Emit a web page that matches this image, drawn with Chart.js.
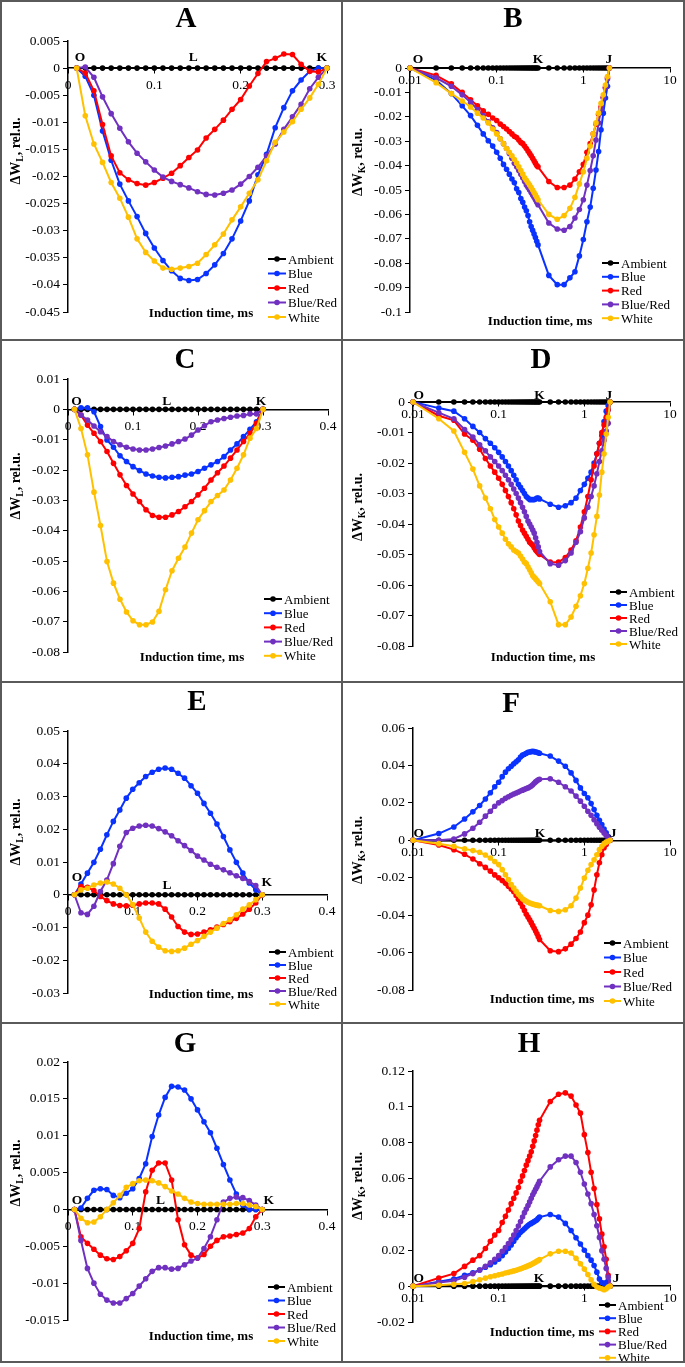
<!DOCTYPE html>
<html>
<head>
<meta charset="utf-8">
<script src="https://cdn.jsdelivr.net/npm/chart.js@4.4.1/dist/chart.umd.min.js"></script>
<style>
  body { margin: 0; background: #fff; }
  #fig { position: relative; width: 685px; height: 1367px; background: #fff; overflow: hidden; }
  .rule { position: absolute; background: #5a5a5a; }
</style>
</head>
<body>
<div id="fig"></div>
<script>
// ---- data ----
const SERIES = ['Ambient', 'Blue', 'Red', 'Blue/Red', 'White'];
const X_TITLE = 'Induction time, ms';
const LOG_TICKS = [0.01, 0.1, 1, 10];

// time points, ms
const L_TIME = [0.01,0.02,0.03,0.04,0.05,0.06,0.07,0.08,0.09,0.10,0.11,0.12,0.13,0.14,0.15,0.16,0.17,0.18,0.19,0.20,0.21,0.22,0.23,0.24,0.25,0.26,0.27,0.28,0.29,0.30];
const K_TIME = [0.01,0.02,0.03,0.04,0.05,0.06,0.07,0.08,0.09,0.10,0.11,0.12,0.13,0.14,0.15,0.16,0.17,0.18,0.19,0.20,0.21,0.22,0.23,0.24,0.25,0.26,0.27,0.28,0.29,0.30,
                0.4,0.5,0.6,0.7,0.8,0.9,1.0,1.1,1.2,1.3,1.4,1.5,1.6,1.7,1.8,1.9,2.0];
const L_AMBIENT = [0,0,0,0,0,0,0,0,0,0,0,0,0,0,0,0,0,0,0,0,0,0,0,0,0,0,0,0,0,0];
const K_AMBIENT = [0,0,0,0,0,0,0,0,0,0,0,0,0,0,0,0,0,0,0,0,0,0,0,0,0,0,0,0,0,0,0,0,0,0,0,0,0,0,0,0,0,0,0,0,0,0,0];

// A - dW_L
const aBlue = [0,-0.0015,-0.005,-0.0116,-0.017,-0.0214,-0.0245,-0.0274,-0.0305,-0.0332,-0.0355,-0.0374,-0.0388,-0.0392,-0.039,-0.0379,-0.0363,-0.0342,-0.0315,-0.0282,-0.0245,-0.0197,-0.0159,-0.011,-0.0073,-0.0042,-0.0022,-0.0006,0,0];
const aRed = [0,-0.0009,-0.0042,-0.0104,-0.0162,-0.0193,-0.0206,-0.0213,-0.0216,-0.0211,-0.0203,-0.0194,-0.018,-0.0165,-0.0151,-0.0129,-0.0113,-0.0096,-0.0076,-0.0058,-0.0033,-0.001,0.0012,0.0018,0.0026,0.0025,0.0007,-0.0006,-0.0007,0];
const aBlueRed = [0,0.0002,-0.0017,-0.0053,-0.0084,-0.0111,-0.0136,-0.0157,-0.0173,-0.0188,-0.0201,-0.0209,-0.0215,-0.0221,-0.0228,-0.0233,-0.0234,-0.0231,-0.0225,-0.0214,-0.02,-0.0183,-0.0162,-0.014,-0.0113,-0.009,-0.0067,-0.0038,-0.0017,0];
const aWhite = [0,-0.0088,-0.014,-0.0174,-0.0211,-0.024,-0.0275,-0.0315,-0.034,-0.0356,-0.0369,-0.0371,-0.0369,-0.0366,-0.036,-0.0344,-0.0326,-0.0306,-0.028,-0.0256,-0.0231,-0.0206,-0.0171,-0.0137,-0.0118,-0.0099,-0.0076,-0.0055,-0.003,0];

// B - dW_K
const bBlue = [0,-0.005,-0.0105,-0.0155,-0.0195,-0.0235,-0.027,-0.0298,-0.032,-0.0345,-0.037,-0.0395,-0.0415,-0.0435,-0.0455,-0.047,-0.0495,-0.051,-0.0535,-0.055,-0.057,-0.0585,-0.0605,-0.063,-0.065,-0.0665,-0.068,-0.0695,-0.071,-0.0725,
               -0.085,-0.0888,-0.0888,-0.086,-0.0835,-0.077,-0.0703,-0.063,-0.057,-0.0493,-0.0418,-0.0342,-0.0253,-0.0185,-0.0123,-0.0075,0];
const bRed = [0,-0.003,-0.0065,-0.01,-0.013,-0.0155,-0.0175,-0.019,-0.0205,-0.0215,-0.023,-0.024,-0.025,-0.026,-0.027,-0.028,-0.0285,-0.0295,-0.0305,-0.031,-0.032,-0.033,-0.034,-0.035,-0.036,-0.037,-0.038,-0.039,-0.04,-0.0405,
              -0.0465,-0.049,-0.049,-0.048,-0.0455,-0.0425,-0.0395,-0.0345,-0.031,-0.027,-0.023,-0.019,-0.016,-0.012,-0.008,-0.004,0];
const bBlueRed = [0,-0.004,-0.0075,-0.011,-0.014,-0.017,-0.0195,-0.022,-0.0245,-0.0265,-0.029,-0.031,-0.033,-0.035,-0.037,-0.039,-0.0405,-0.042,-0.0435,-0.045,-0.0465,-0.048,-0.049,-0.05,-0.051,-0.052,-0.053,-0.054,-0.055,-0.056,
                  -0.0635,-0.066,-0.0665,-0.065,-0.0615,-0.058,-0.054,-0.048,-0.042,-0.036,-0.0295,-0.0225,-0.017,-0.0123,-0.0082,-0.0045,0];
const bWhite = [0,-0.006,-0.0105,-0.0135,-0.016,-0.0185,-0.0205,-0.0225,-0.025,-0.027,-0.029,-0.031,-0.033,-0.0345,-0.036,-0.0375,-0.039,-0.0405,-0.042,-0.0435,-0.045,-0.046,-0.047,-0.048,-0.049,-0.05,-0.051,-0.052,-0.053,-0.054,
                -0.06,-0.062,-0.0605,-0.0575,-0.053,-0.0475,-0.0425,-0.037,-0.032,-0.027,-0.0225,-0.0185,-0.0145,-0.011,-0.007,-0.0035,0];

// C - dW_L
const cBlue = [0,0.0005,0.0005,-0.0008,-0.0057,-0.0101,-0.0125,-0.0153,-0.0172,-0.0189,-0.0202,-0.0213,-0.022,-0.0224,-0.0226,-0.0224,-0.0222,-0.0217,-0.0213,-0.0205,-0.0194,-0.0183,-0.0172,-0.0156,-0.0134,-0.0114,-0.009,-0.0066,-0.0041,0];
const cRed = [0,-0.0019,-0.0052,-0.0079,-0.0106,-0.0139,-0.0178,-0.0216,-0.0251,-0.0279,-0.0304,-0.0331,-0.035,-0.0356,-0.0356,-0.0348,-0.0337,-0.0321,-0.0304,-0.0282,-0.026,-0.0233,-0.0209,-0.0187,-0.0161,-0.0134,-0.0106,-0.0079,-0.0046,0];
const cBlueRed = [0,-0.0019,-0.0035,-0.0055,-0.0074,-0.009,-0.0106,-0.0117,-0.0125,-0.0131,-0.0134,-0.0134,-0.0131,-0.0126,-0.0121,-0.0114,-0.0106,-0.0098,-0.0085,-0.0068,-0.0054,-0.0041,-0.0035,-0.003,-0.0026,-0.0022,-0.002,-0.0015,-0.0015,0];
const cWhite = [0,-0.0063,-0.015,-0.0273,-0.0383,-0.0502,-0.0573,-0.0626,-0.0668,-0.0697,-0.071,-0.071,-0.0701,-0.0666,-0.0595,-0.0532,-0.0491,-0.0454,-0.0408,-0.0364,-0.0334,-0.0304,-0.0284,-0.0266,-0.0233,-0.0194,-0.015,-0.0095,-0.0063,0];

// D - dW_K
const dBlue = [0,-0.002,-0.003,-0.0055,-0.008,-0.01,-0.012,-0.0135,-0.015,-0.0165,-0.018,-0.0195,-0.021,-0.0225,-0.024,-0.0255,-0.027,-0.028,-0.029,-0.03,-0.031,-0.0315,-0.032,-0.032,-0.032,-0.032,-0.0318,-0.0315,-0.0315,-0.0318,
               -0.0335,-0.0345,-0.034,-0.033,-0.0315,-0.029,-0.027,-0.025,-0.023,-0.02,-0.017,-0.0135,-0.011,-0.0064,-0.003,-0.0012,0];
const dRed = [0,-0.0045,-0.006,-0.0105,-0.0125,-0.0155,-0.0185,-0.021,-0.023,-0.025,-0.027,-0.029,-0.031,-0.033,-0.035,-0.037,-0.039,-0.0405,-0.042,-0.043,-0.044,-0.045,-0.046,-0.0465,-0.047,-0.0478,-0.0485,-0.049,-0.0495,-0.05,
              -0.0525,-0.0525,-0.051,-0.0485,-0.0455,-0.041,-0.036,-0.031,-0.0255,-0.021,-0.017,-0.0135,-0.01,-0.0075,-0.005,-0.0025,0];
const dBlueRed = [0,-0.0035,-0.0055,-0.009,-0.0115,-0.014,-0.016,-0.018,-0.0195,-0.021,-0.0225,-0.024,-0.0255,-0.027,-0.0285,-0.03,-0.0315,-0.033,-0.0345,-0.036,-0.0375,-0.039,-0.04,-0.041,-0.042,-0.043,-0.0445,-0.046,-0.0475,-0.049,
                  -0.053,-0.0535,-0.052,-0.0495,-0.046,-0.0425,-0.038,-0.0345,-0.031,-0.0275,-0.0235,-0.0195,-0.016,-0.0125,-0.0095,-0.007,0];
const dWhite = [0,-0.0055,-0.0095,-0.0165,-0.022,-0.0275,-0.0315,-0.035,-0.0385,-0.041,-0.043,-0.045,-0.0465,-0.0475,-0.0485,-0.049,-0.0495,-0.0505,-0.0515,-0.0525,-0.053,-0.054,-0.055,-0.056,-0.057,-0.0575,-0.058,-0.0585,-0.059,-0.0595,
                -0.0655,-0.073,-0.073,-0.0705,-0.067,-0.0635,-0.0595,-0.0545,-0.0495,-0.0435,-0.0375,-0.0305,-0.023,-0.017,-0.0105,-0.005,0];

// E - dW_L
const eBlue = [0,0.0033,0.0066,0.0099,0.0139,0.0183,0.0224,0.0259,0.0295,0.0322,0.0342,0.0361,0.0374,0.0383,0.0387,0.0383,0.0371,0.0356,0.0333,0.031,0.0279,0.0249,0.0216,0.0178,0.0137,0.0099,0.0066,0.0036,0.0015,0];
const eRed = [0,0.0025,0.0023,0.0013,-0.0005,-0.0018,-0.0028,-0.0033,-0.0034,-0.0032,-0.0028,-0.0025,-0.0025,-0.0028,-0.0044,-0.0068,-0.0097,-0.0114,-0.0121,-0.012,-0.0114,-0.0107,-0.0099,-0.0091,-0.0082,-0.0072,-0.0059,-0.0044,-0.0025,0];
const eBlueRed = [0,-0.0055,-0.006,-0.0035,0.001,0.0045,0.0095,0.0148,0.019,0.0203,0.021,0.0212,0.021,0.0202,0.0192,0.018,0.0165,0.015,0.0135,0.0118,0.0106,0.0093,0.0084,0.0076,0.0067,0.0058,0.005,0.004,0.0028,0];
const eWhite = [0,0.0015,0.002,0.003,0.0036,0.0039,0.0033,0.002,0,-0.003,-0.0071,-0.0114,-0.0142,-0.016,-0.0171,-0.0173,-0.0171,-0.0163,-0.0151,-0.014,-0.0127,-0.0114,-0.0102,-0.0088,-0.0076,-0.0061,-0.0044,-0.0031,-0.0015,0];

// F - dW_K
const fBlue = [0,0.0036,0.0071,0.0114,0.0152,0.0186,0.0221,0.0254,0.0286,0.031,0.034,0.0364,0.0382,0.0396,0.0409,0.042,0.043,0.0445,0.0455,0.046,0.0465,0.047,0.0472,0.0474,0.0475,0.0474,0.0472,0.047,0.0468,0.0465,
               0.045,0.0423,0.0396,0.036,0.032,0.028,0.025,0.0227,0.0196,0.0164,0.0134,0.0107,0.0084,0.006,0.004,0.002,0];
const fRed = [0,-0.0025,-0.005,-0.0075,-0.01,-0.0125,-0.0145,-0.0165,-0.0185,-0.02,-0.0215,-0.023,-0.0245,-0.026,-0.0275,-0.0295,-0.0315,-0.0335,-0.0355,-0.0375,-0.0395,-0.041,-0.0425,-0.044,-0.0455,-0.047,-0.0485,-0.05,-0.0515,-0.053,
              -0.059,-0.0595,-0.058,-0.0555,-0.0525,-0.049,-0.044,-0.04,-0.0345,-0.0265,-0.0184,-0.012,-0.0077,-0.004,-0.0023,-0.0005,0];
const fBlueRed = [0,0,0.0007,0.0034,0.0064,0.0096,0.0129,0.0155,0.0182,0.02,0.0212,0.0224,0.0233,0.024,0.0247,0.0253,0.0258,0.0263,0.0268,0.0272,0.0277,0.028,0.0285,0.029,0.0297,0.0305,0.0312,0.0318,0.0323,0.0326,
                  0.0329,0.031,0.0286,0.0263,0.0236,0.0209,0.0182,0.0155,0.0134,0.011,0.0089,0.007,0.0054,0.0039,0.0025,0.0012,0];
const fWhite = [0,-0.0018,-0.0032,-0.0046,-0.0055,-0.0064,-0.0079,-0.0095,-0.0113,-0.013,-0.0157,-0.0184,-0.021,-0.0237,-0.0255,-0.0273,-0.0288,-0.03,-0.0313,-0.032,-0.0326,-0.0331,-0.0335,-0.0338,-0.0341,-0.0343,-0.0345,-0.0347,-0.0348,-0.035,
                -0.0375,-0.038,-0.0371,-0.035,-0.0309,-0.0255,-0.0202,-0.016,-0.013,-0.0104,-0.0077,-0.005,-0.0032,-0.0018,-0.001,-0.0005,0];

// G - dW_L
const gBlue = [0,0.0002,0.0015,0.0026,0.0028,0.0027,0.0019,0.0016,0.0022,0.0028,0.0042,0.0062,0.0099,0.0128,0.0152,0.0167,0.0166,0.0162,0.015,0.0135,0.0119,0.0104,0.0083,0.0061,0.004,0.0021,0.0006,0,0,0];
const gRed = [0,-0.0037,-0.0046,-0.0054,-0.0062,-0.0067,-0.0068,-0.0064,-0.0056,-0.0046,-0.0026,0.0024,0.0053,0.0063,0.0063,0.004,-0.0014,-0.0048,-0.0062,-0.0066,-0.0061,-0.005,-0.0042,-0.0037,-0.0036,-0.0034,-0.0032,-0.0026,-0.001,0];
const gBlueRed = [0,-0.0042,-0.008,-0.01,-0.0115,-0.0123,-0.0127,-0.0127,-0.0121,-0.0114,-0.0104,-0.0094,-0.0084,-0.0079,-0.0079,-0.0081,-0.008,-0.0075,-0.007,-0.0066,-0.0053,-0.0037,-0.0014,0.001,0.0015,0.0017,0.0016,0.0012,0.0006,0];
const gWhite = [0,-0.0012,-0.0018,-0.0017,-0.001,0,0.0009,0.0019,0.003,0.0035,0.0039,0.004,0.0039,0.0036,0.0031,0.0025,0.0021,0.0015,0.001,0.0008,0.0007,0.0007,0.0007,0.0007,0.0007,0.0008,0.0008,0.0006,0.0004,0];

// H - dW_K
const hBlue = [0,0.0025,0.004,0.006,0.0075,0.009,0.0105,0.012,0.0135,0.015,0.017,0.019,0.021,0.023,0.025,0.027,0.0285,0.03,0.031,0.032,0.033,0.0338,0.0345,0.035,0.0355,0.036,0.0365,0.037,0.0378,0.0385,
               0.04,0.0385,0.035,0.031,0.027,0.0235,0.02,0.017,0.0145,0.0115,0.0078,0.004,0.002,0.0015,0.002,0.003,0];
const hRed = [0,0.0045,0.007,0.011,0.0145,0.017,0.021,0.025,0.0285,0.031,0.0355,0.039,0.0425,0.046,0.049,0.052,0.055,0.0585,0.0615,0.0645,0.0675,0.07,0.0725,0.075,0.078,0.081,0.084,0.087,0.09,0.0925,
              0.103,0.107,0.1078,0.106,0.101,0.0965,0.0845,0.0745,0.0635,0.0545,0.0455,0.0375,0.029,0.022,0.015,0.006,0];
const hBlueRed = [0,0.002,0.003,0.005,0.007,0.009,0.011,0.013,0.015,0.017,0.0195,0.0215,0.0238,0.026,0.0285,0.031,0.0335,0.036,0.0385,0.041,0.043,0.045,0.047,0.049,0.051,0.0525,0.054,0.0555,0.057,0.0585,
                  0.0665,0.0705,0.0725,0.0725,0.069,0.0635,0.057,0.0514,0.046,0.04,0.0337,0.0272,0.0198,0.015,0.0099,0.005,0];
const hWhite = [0,0.0005,0.001,0.0015,0.0025,0.0035,0.0045,0.0052,0.0058,0.0063,0.0068,0.0073,0.0077,0.0081,0.0085,0.0089,0.0093,0.0097,0.0101,0.0105,0.0109,0.0113,0.0117,0.0121,0.0126,0.013,0.0135,0.014,0.0143,0.0148,
                0.018,0.0195,0.0195,0.0185,0.0155,0.0125,0.0095,0.0065,0.0035,0.001,-0.0005,-0.001,-0.0015,-0.002,-0.0015,-0.0005,0];

// ---- layout (page pixel coordinates) ----
const SERIF = '"Liberation Serif", "Times New Roman", serif';
const COLORS = ['#000000', '#0a32ff', '#ff0000', '#7030c0', '#ffc000'];
const YW = 55;

const PANELS = [
  { letter: 'A', sub: 'L', log: false, ox: 2, oy: 2, w: 339, h: 337, area: [68, 41, 327, 312], y: [-0.045, 0.005, 0.005], xMax: 0.3,
    data: [aBlue, aRed, aBlueRed, aWhite], letterAt: [186, 27], xTitleAt: [201, 317], yTitleAt: [20, 151],
    marks: [['O', 0.014, 12], ['L', 0.145, 12], ['K', 0.294, 12]], legend: [268, 286, 288, 259, 14.5] },
  { letter: 'B', sub: 'K', log: true, ox: 343, oy: 2, w: 340, h: 337, area: [410, 68, 670, 312], y: [-0.1, 0, 0.01],
    data: [bBlue, bRed, bBlueRed, bWhite], letterAt: [513, 27], xTitleAt: [540, 325], yTitleAt: [362, 162],
    marks: [['O', 0.0124, 10], ['K', 0.3, 10], ['J', 1.97, 10]], legend: [602, 619, 621, 263, 13.8] },
  { letter: 'C', sub: 'L', log: false, ox: 2, oy: 341, w: 339, h: 340, area: [68, 379, 328, 652], y: [-0.08, 0.01, 0.01], xMax: 0.4,
    data: [cBlue, cRed, cBlueRed, cWhite], letterAt: [185, 368], xTitleAt: [192, 661], yTitleAt: [20, 486],
    marks: [['O', 0.013, 9], ['L', 0.152, 9], ['K', 0.297, 9]], legend: [264, 282, 284, 599, 14.2] },
  { letter: 'D', sub: 'K', log: true, ox: 343, oy: 341, w: 340, h: 340, area: [413, 402, 670, 646], y: [-0.08, 0, 0.01],
    data: [dBlue, dRed, dBlueRed, dWhite], letterAt: [541, 368], xTitleAt: [543, 661], yTitleAt: [362, 507],
    marks: [['O', 0.0117, 8], ['K', 0.3, 8], ['J', 1.94, 8]], legend: [610, 627, 629, 592, 13] },
  { letter: 'E', sub: 'L', log: false, ox: 2, oy: 683, w: 339, h: 339, area: [68, 731, 327, 993], y: [-0.03, 0.05, 0.01], xMax: 0.4,
    data: [eBlue, eRed, eBlueRed, eWhite], letterAt: [197, 710], xTitleAt: [201, 998], yTitleAt: [20, 832],
    marks: [['O', 0.014, 18], ['L', 0.153, 10], ['K', 0.307, 13]], legend: [269, 286, 288, 952, 13] },
  { letter: 'F', sub: 'K', log: true, ox: 343, oy: 683, w: 340, h: 339, area: [413, 728, 670, 990], y: [-0.08, 0.06, 0.02],
    data: [fBlue, fRed, fBlueRed, fWhite], letterAt: [511, 712], xTitleAt: [542, 1003], yTitleAt: [362, 850],
    marks: [['O', 0.0117, 8], ['K', 0.303, 8], ['J', 2.17, 8]], legend: [604, 621, 623, 943, 14.5] },
  { letter: 'G', sub: 'L', log: false, ox: 2, oy: 1024, w: 339, h: 337, area: [68, 1062, 327, 1320], y: [-0.015, 0.02, 0.005], xMax: 0.4,
    data: [gBlue, gRed, gBlueRed, gWhite], letterAt: [185, 1052], xTitleAt: [201, 1340], yTitleAt: [20, 1173],
    marks: [['O', 0.014, 10], ['L', 0.143, 10], ['K', 0.31, 10]], legend: [268, 285, 287, 1287, 13.5] },
  { letter: 'H', sub: 'K', log: true, ox: 343, oy: 1024, w: 340, h: 337, area: [413, 1071, 670, 1322], y: [-0.02, 0.12, 0.02],
    data: [hBlue, hRed, hBlueRed, hWhite], letterAt: [529, 1052], xTitleAt: [542, 1336], yTitleAt: [362, 1186],
    marks: [['O', 0.0117, 9], ['K', 0.296, 9], ['J', 2.35, 9]], legend: [599, 616, 618, 1305, 13.2] }
];

Chart.defaults.font.family = SERIF;
Chart.defaults.color = '#000';

const fmt = v => String(+(+v).toFixed(4));

// draws panel letter, O/L/K/J marks, axis titles and the legend box
const makeDecor = p => ({
  id: 'decor',
  afterDraw(chart) {
    const ctx = chart.ctx, xs = chart.scales.x, ys = chart.scales.y;
    const X = v => v - p.ox, Y = v => v - p.oy;
    ctx.save();
    ctx.fillStyle = '#000';
    ctx.textBaseline = 'alphabetic';
    ctx.textAlign = 'center';
    ctx.font = 'bold 29px ' + SERIF;
    ctx.fillText(p.letter, X(p.letterAt[0]), Y(p.letterAt[1]));

    ctx.font = 'bold 13.5px ' + SERIF;
    const y0 = ys.getPixelForValue(0);
    p.marks.forEach(m => ctx.fillText(m[0], xs.getPixelForValue(m[1]), y0 - m[2] + 4.5));

    ctx.font = 'bold 13px ' + SERIF;
    ctx.fillText(X_TITLE, X(p.xTitleAt[0]), Y(p.xTitleAt[1]));

    // y title with subscript
    ctx.save();
    ctx.translate(X(p.yTitleAt[0]), Y(p.yTitleAt[1]));
    ctx.rotate(-Math.PI / 2);
    const big = 'bold 14px ' + SERIF, small = 'bold 9.5px ' + SERIF;
    ctx.font = big;
    const w1 = ctx.measureText('\u0394W').width, w3 = ctx.measureText(', rel.u.').width;
    ctx.font = small;
    const w2 = ctx.measureText(p.sub).width;
    let x = -(w1 + w2 + w3) / 2;
    ctx.textAlign = 'left';
    ctx.font = big; ctx.fillText('\u0394W', x, 0); x += w1;
    ctx.font = small; ctx.fillText(p.sub, x, 3); x += w2;
    ctx.font = big; ctx.fillText(', rel.u.', x, 0);
    ctx.restore();

    // legend
    const lg = p.legend;
    chart.data.datasets.forEach((ds, i) => {
      const yy = Y(lg[3] + i * lg[4]);
      const x0 = X(lg[0]), x1 = X(lg[1]);
      ctx.strokeStyle = ds.borderColor;
      ctx.lineWidth = 2;
      ctx.beginPath(); ctx.moveTo(x0, yy); ctx.lineTo(x1, yy); ctx.stroke();
      ctx.fillStyle = ds.borderColor;
      ctx.beginPath(); ctx.arc((x0 + x1) / 2, yy, 2.8, 0, 2 * Math.PI); ctx.fill();
      ctx.fillStyle = '#000';
      ctx.font = '13px ' + SERIF;
      ctx.textAlign = 'left';
      ctx.fillText(ds.label, X(lg[2]), yy + 4.5);
    });
    ctx.restore();
  }
});

const fig = document.getElementById('fig');

PANELS.forEach(p => {
  const cv = document.createElement('canvas');
  cv.width = p.w; cv.height = p.h;
  cv.style.cssText = `position:absolute;left:${p.ox}px;top:${p.oy}px;width:${p.w}px;height:${p.h}px;`;
  fig.appendChild(cv);

  const times = p.log ? K_TIME : L_TIME;
  const series = [p.log ? K_AMBIENT : L_AMBIENT].concat(p.data);
  const datasets = series.map((vals, i) => ({
    label: SERIES[i],
    data: times.map((t, j) => ({ x: t, y: vals[j] })),
    borderColor: COLORS[i],
    backgroundColor: COLORS[i],
    borderWidth: 2,
    pointRadius: 2.8,
    pointBorderWidth: 0,
    pointHoverRadius: 2.8,
    tension: 0,
    clip: false,
    order: series.length - 1 - i
  }));

  const [l, t, r, b] = p.area;
  const axisGrid = { drawOnChartArea: false, drawTicks: true, tickLength: p.log ? 4 : 5, color: '#000' };
  const axisBorder = { display: true, color: '#000', width: 1.5 };

  const xScale = p.log ? {
    type: 'logarithmic', position: { y: 0 }, min: 0.01, max: 10,
    afterBuildTicks: s => { s.ticks = LOG_TICKS.map(v => ({ value: v })); },
    ticks: { callback: v => String(v), font: { size: 13.5 }, autoSkip: false, maxRotation: 0, padding: 0 },
    grid: axisGrid, border: axisBorder
  } : {
    type: 'linear', position: { y: 0 }, min: 0, max: p.xMax,
    ticks: { stepSize: 0.1, callback: v => fmt(v), font: { size: 13.5 }, autoSkip: false, maxRotation: 0, padding: 4 },
    grid: axisGrid, border: axisBorder
  };

  new Chart(cv, {
    type: 'line',
    data: { datasets },
    options: {
      responsive: false,
      animation: false,
      devicePixelRatio: 1,
      events: [],
      layout: { padding: { left: l - p.ox - YW, top: t - p.oy, right: p.w - (r - p.ox), bottom: p.h - (b - p.oy) } },
      scales: {
        x: xScale,
        y: {
          type: 'linear', position: 'left', min: p.y[0], max: p.y[1],
          afterFit: s => { s.width = YW; },
          ticks: { stepSize: p.y[2], callback: v => fmt(v), font: { size: 13.5 }, padding: 3 },
          grid: { drawOnChartArea: false, drawTicks: true, tickLength: 5, color: '#000' },
          border: axisBorder
        }
      },
      plugins: { legend: { display: false }, tooltip: { enabled: false } }
    },
    plugins: [makeDecor(p)]
  });
});

// panel frame lines
[[0, 0, 685, 2], [0, 1361, 685, 2], [0, 0, 2, 1363], [683, 0, 2, 1363], [341, 0, 2, 1363],
 [0, 339, 685, 2], [0, 681, 685, 2], [0, 1022, 685, 2]].forEach(([x, y, w, h]) => {
  const d = document.createElement('div');
  d.className = 'rule';
  d.style.cssText = `left:${x}px;top:${y}px;width:${w}px;height:${h}px;`;
  fig.appendChild(d);
});
</script>
</body>
</html>
